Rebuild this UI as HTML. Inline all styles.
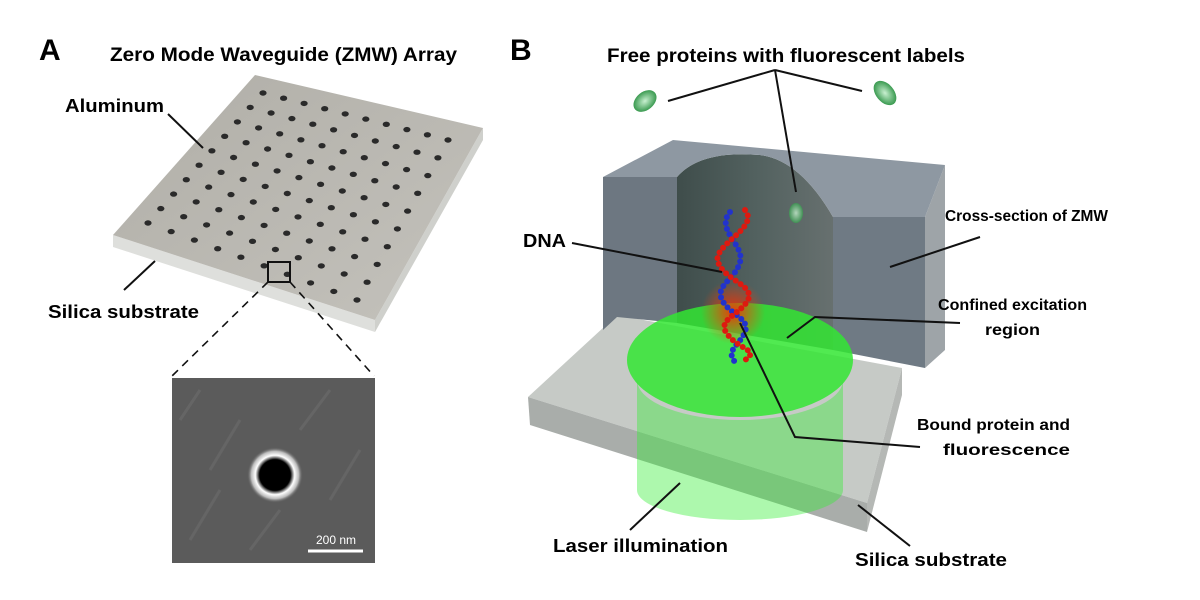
<!DOCTYPE html>
<html><head><meta charset="utf-8"><style>
body{margin:0;background:#fff;}
svg{display:block;font-family:"Liberation Sans",Arial,sans-serif;font-weight:bold;}
</style></head><body>
<svg id="s" width="1200" height="600" viewBox="0 0 1200 600" xmlns="http://www.w3.org/2000/svg">
<defs>
<linearGradient id="plate" x1="0" y1="0" x2="1" y2="1">
<stop offset="0" stop-color="#b0aea7"/><stop offset="1" stop-color="#c4c2bc"/></linearGradient>
<radialGradient id="hole"><stop offset="0.55" stop-color="#000"/><stop offset="0.7" stop-color="#fff"/><stop offset="0.85" stop-color="#bbb"/><stop offset="1" stop-color="#555" stop-opacity="0"/></radialGradient>
<radialGradient id="glow"><stop offset="0" stop-color="#ff2a00" stop-opacity="0.9"/><stop offset="1" stop-color="#ff4000" stop-opacity="0"/></radialGradient>
<linearGradient id="cyl" x1="0" x2="1"><stop offset="0" stop-color="#3f4d4b"/><stop offset="0.5" stop-color="#52615f"/><stop offset="1" stop-color="#67706f"/></linearGradient>
<radialGradient id="prot"><stop offset="0" stop-color="#c8f0d0"/><stop offset="1" stop-color="#3a9a50"/></radialGradient>
</defs>

<!-- Panel A -->
<text x="39" y="60" font-size="30">A</text>
<text x="110" y="61" font-size="19" textLength="347" lengthAdjust="spacingAndGlyphs">Zero Mode Waveguide (ZMW) Array</text>
<polygon points="113,235 375,320 375,332 113,247" fill="#dedfdc"/>
<polygon points="375,320 483,128 483,140 375,332" fill="#cfd0cc"/>
<polygon points="255,75 483,128 375,320 113,235" fill="url(#plate)"/>
<g id="holes" fill="#2a2a2a"></g>
<text x="65" y="112" font-size="18" textLength="99" lengthAdjust="spacingAndGlyphs">Aluminum</text>
<line x1="168" y1="114" x2="203" y2="148" stroke="#111" stroke-width="2"/>
<text x="48" y="318" font-size="18" textLength="151" lengthAdjust="spacingAndGlyphs">Silica substrate</text>
<line x1="124" y1="290" x2="155" y2="261" stroke="#111" stroke-width="2"/>
<rect x="268" y="262" width="22" height="20" fill="none" stroke="#111" stroke-width="2"/>
<line x1="268" y1="282" x2="172" y2="376" stroke="#111" stroke-width="1.6" stroke-dasharray="8,6"/>
<line x1="290" y1="282" x2="374" y2="376" stroke="#111" stroke-width="1.6" stroke-dasharray="8,6"/>
<rect x="172" y="378" width="203" height="185" fill="#5b5b5b"/>
<g stroke="#707070" stroke-width="3" opacity="0.5">
<line x1="180" y1="420" x2="200" y2="390"/><line x1="210" y1="470" x2="240" y2="420"/><line x1="300" y1="430" x2="330" y2="390"/><line x1="190" y1="540" x2="220" y2="490"/><line x1="330" y1="500" x2="360" y2="450"/><line x1="250" y1="550" x2="280" y2="510"/></g>
<circle cx="275" cy="475" r="28" fill="url(#hole)"/>
<line x1="308" y1="551" x2="363" y2="551" stroke="#fff" stroke-width="3"/>
<text x="336" y="544" font-size="12" font-weight="normal" fill="#fff" text-anchor="middle">200 nm</text>

<!-- Panel B -->
<text x="510" y="60" font-size="30">B</text>
<text x="607" y="62" font-size="19" textLength="358" lengthAdjust="spacingAndGlyphs">Free proteins with fluorescent labels</text>
<polygon points="617,315 528,397 867,503 902,368" fill="#c6cac6"/>
<polygon points="528,397 867,503 867,532 530,425" fill="#a9adaa"/>
<polygon points="867,503 902,368 902,395 867,532" fill="#b5b8b5"/>
<polygon points="603,177 677,177 677,323 617,317 603,330" fill="#6d7781"/>
<polygon points="833,217 925,217 925,368 833,350" fill="#6f7a84"/>
<polygon points="925,217 945,165 945,350 925,368" fill="#9ea4a8"/>
<path d="M677,177 L677,323 L833,350 L833,217 Q800,160 760,155 Q700,150 677,177Z" fill="url(#cyl)"/>
<path d="M603,177 L673,140 L945,165 L925,217 L833,217 Q800,160 760,155 Q700,150 677,177Z" fill="#8e98a2"/>
<ellipse cx="740" cy="360" rx="113" ry="57" fill="#33e633" opacity="0.85"/>
<path d="M637,380 L637,490 A103,30 0 0 0 843,490 L843,380 A103,40 0 0 1 637,380Z" fill="#33ee33" opacity="0.4"/>
<circle cx="733" cy="312" r="32" fill="url(#glow)"/>
<path d="M730,212 C715,230 745,245 740,262 C735,280 715,285 722,300 C730,315 750,318 745,332 C740,345 725,350 735,362" fill="none" stroke="#2233cc" stroke-width="6" stroke-linecap="round" stroke-dasharray="0 6"/>
<path d="M745,210 C760,228 712,245 718,262 C724,280 755,285 748,300 C740,315 715,320 728,335 C740,350 760,350 745,360" fill="none" stroke="#dd1a10" stroke-width="6" stroke-linecap="round" stroke-dasharray="0 6"/>
<ellipse cx="645" cy="101" rx="9" ry="13" transform="rotate(50 645 101)" fill="url(#prot)"/>
<ellipse cx="885" cy="93" rx="9" ry="14" transform="rotate(-40 885 93)" fill="url(#prot)"/>
<ellipse cx="796" cy="213" rx="7" ry="10" fill="url(#prot)" opacity="0.8"/>
<g stroke="#111" stroke-width="2" fill="none">
<line x1="775" y1="70" x2="668" y2="101"/><line x1="775" y1="70" x2="862" y2="91"/><line x1="775" y1="70" x2="796" y2="192"/>
<line x1="572" y1="243" x2="722" y2="272"/>
<line x1="980" y1="237" x2="890" y2="267"/>
<polyline points="960,323 815,317 787,338"/>
<polyline points="920,447 795,437 740,323"/>
<line x1="630" y1="530" x2="680" y2="483"/>
<line x1="910" y1="546" x2="858" y2="505"/>
</g>
<text x="523" y="247" font-size="18" textLength="43" lengthAdjust="spacingAndGlyphs">DNA</text>
<text x="945" y="221" font-size="16" textLength="163" lengthAdjust="spacingAndGlyphs">Cross-section of ZMW</text>
<text x="938" y="310" font-size="16" textLength="149" lengthAdjust="spacingAndGlyphs">Confined excitation</text>
<text x="985" y="335" font-size="16" textLength="55" lengthAdjust="spacingAndGlyphs">region</text>
<text x="917" y="430" font-size="16" textLength="153" lengthAdjust="spacingAndGlyphs">Bound protein and</text>
<text x="943" y="455" font-size="16" textLength="127" lengthAdjust="spacingAndGlyphs">fluorescence</text>
<text x="553" y="552" font-size="18" textLength="175" lengthAdjust="spacingAndGlyphs">Laser illumination</text>
<text x="855" y="566" font-size="18" textLength="152" lengthAdjust="spacingAndGlyphs">Silica substrate</text>
</svg>
<script>
var T=[263,93],R=[448,140],B=[357,300],L=[148,223],g=document.getElementById('holes'),h='';
for(var i=0;i<10;i++)for(var j=0;j<10;j++){var u=i/9,v=j/9;
var x=(1-u)*(1-v)*T[0]+u*(1-v)*R[0]+(1-u)*v*L[0]+u*v*B[0];
var y=(1-u)*(1-v)*T[1]+u*(1-v)*R[1]+(1-u)*v*L[1]+u*v*B[1];
h+='<ellipse cx="'+x.toFixed(1)+'" cy="'+y.toFixed(1)+'" rx="3.6" ry="2.7"/>';}
g.innerHTML=h;
</script>
</body></html>
